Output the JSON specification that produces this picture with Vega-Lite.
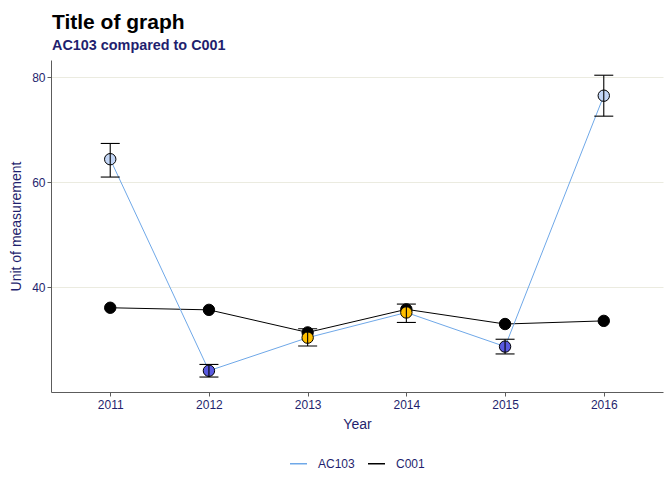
{
  "$schema": "https://vega.github.io/schema/vega-lite/v6.json",
  "width": 612,
  "height": 332,
  "autosize": {"type": "none"},
  "padding": {"left": 51, "top": 60, "right": 9, "bottom": 88},
  "background": "white",
  "title": {
    "text": "Title of graph",
    "subtitle": "AC103 compared to C001",
    "anchor": "start",
    "frame": "group",
    "dx": 1,
    "font": "Liberation Sans",
    "fontSize": 21,
    "fontWeight": "bold",
    "color": "black",
    "subtitleFont": "Liberation Sans",
    "subtitleFontSize": 14.4,
    "subtitleFontWeight": "bold",
    "subtitleColor": "#1f1f6e",
    "subtitlePadding": 6,
    "offset": 8
  },
  "config": {
    "view": {"stroke": null},
    "font": "Liberation Sans",
    "axis": {
      "domainColor": "#5c5c5c",
      "tickColor": "#5c5c5c",
      "tickSize": 4,
      "labelColor": "#1f1f6e",
      "labelFont": "Liberation Sans",
      "labelFontSize": 12,
      "titleColor": "#1f1f6e",
      "titleFont": "Liberation Sans",
      "titleFontSize": 14,
      "titleFontWeight": "normal",
      "gridColor": "#ebebe0",
      "gridWidth": 1
    },
    "legend": {
      "labelColor": "#1f1f6e",
      "labelFont": "Liberation Sans",
      "labelFontSize": 12,
      "layout": {"bottom": {"anchor": "middle"}}
    }
  },
  "data": {
    "values": [
      {"year": "2011", "series": "C001", "value": 36.1, "group": "Reference"},
      {"year": "2012", "series": "C001", "value": 35.7, "group": "Reference"},
      {"year": "2013", "series": "C001", "value": 31.4, "group": "Reference"},
      {"year": "2014", "series": "C001", "value": 35.8, "group": "Reference"},
      {"year": "2015", "series": "C001", "value": 33.0, "group": "Reference"},
      {"year": "2016", "series": "C001", "value": 33.6, "group": "Reference"},
      {"year": "2011", "series": "AC103", "value": 64.4, "lo": 61.0, "hi": 67.4, "group": "Higher"},
      {"year": "2012", "series": "AC103", "value": 24.1, "lo": 22.9, "hi": 25.3, "group": "Lower"},
      {"year": "2013", "series": "AC103", "value": 30.4, "lo": 28.8, "hi": 32.1, "group": "Similar"},
      {"year": "2014", "series": "AC103", "value": 35.2, "lo": 33.3, "hi": 36.8, "group": "Similar"},
      {"year": "2015", "series": "AC103", "value": 28.7, "lo": 27.3, "hi": 30.1, "group": "Lower"},
      {"year": "2016", "series": "AC103", "value": 76.5, "lo": 72.6, "hi": 80.4, "group": "Higher"}
    ]
  },
  "encoding": {
    "x": {
      "field": "year",
      "type": "ordinal",
      "scale": {"type": "point", "padding": 0.6},
      "axis": {"title": "Year", "labelAngle": 0, "grid": false, "titlePadding": 7, "labelPadding": 3}
    }
  },
  "layer": [
    {
      "mark": {"type": "line", "strokeWidth": 1},
      "encoding": {
        "y": {
          "field": "value",
          "type": "quantitative",
          "scale": {"domain": [20.05, 83.3], "nice": false, "zero": false},
          "axis": {"title": "Unit of measurement", "values": [40, 60, 80], "grid": true, "labelPadding": 2, "titlePadding": 8}
        },
        "color": {
          "field": "series",
          "type": "nominal",
          "scale": {"domain": ["AC103", "C001"], "range": ["#6fa8e8", "black"]},
          "legend": {
            "title": null,
            "orient": "bottom",
            "direction": "horizontal",
            "symbolType": "stroke",
            "symbolSize": 289,
            "symbolStrokeWidth": 1.5,
            "labelOffset": 10,
            "columnPadding": 10,
            "offset": 23
          }
        }
      }
    },
    {
      "mark": {"type": "point", "filled": true, "size": 130, "stroke": "black", "strokeWidth": 1, "opacity": 1},
      "encoding": {
        "y": {"field": "value", "type": "quantitative"},
        "fill": {
          "field": "group",
          "type": "nominal",
          "scale": {"domain": ["Reference", "Higher", "Lower", "Similar"], "range": ["black", "#c3d6f6", "#5a5ae0", "#ffbf00"]},
          "legend": null
        }
      }
    },
    {
      "transform": [{"filter": "datum.series === 'AC103'"}],
      "mark": {"type": "rule", "color": "black", "strokeWidth": 1.1},
      "encoding": {
        "y": {"field": "lo", "type": "quantitative"},
        "y2": {"field": "hi"}
      }
    },
    {
      "transform": [{"filter": "datum.series === 'AC103'"}],
      "mark": {"type": "tick", "color": "black", "size": 19, "thickness": 1.1, "opacity": 1},
      "encoding": {
        "y": {"field": "lo", "type": "quantitative"}
      }
    },
    {
      "transform": [{"filter": "datum.series === 'AC103'"}],
      "mark": {"type": "tick", "color": "black", "size": 19, "thickness": 1.1, "opacity": 1},
      "encoding": {
        "y": {"field": "hi", "type": "quantitative"}
      }
    }
  ]
}
